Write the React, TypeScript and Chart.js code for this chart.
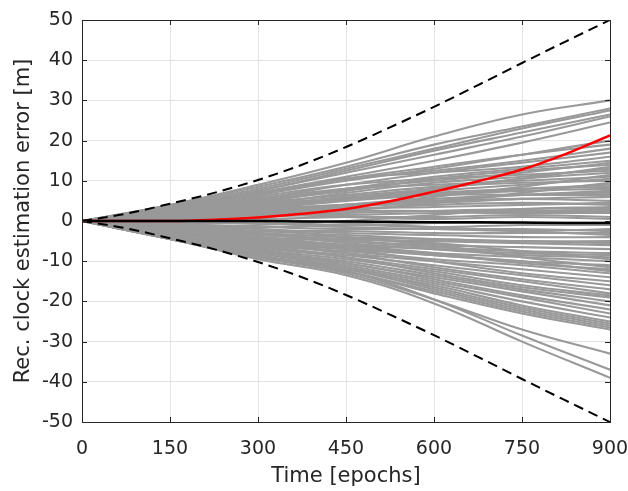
import { useEffect, useRef } from "react";
import { Chart, registerables } from "chart.js";

Chart.register(...registerables);

// Epoch grids
const EPOCHS_FINE = [0, 75, 150, 225, 300, 375, 450, 525, 600, 675, 750, 825, 900];
const EPOCHS_COARSE = [0, 150, 300, 450, 600, 750, 900];

// Bounds (dashed)
const UPPER_BOUND = [0, 1.8, 4.3, 7, 10.2, 14, 18.4, 23.3, 28.4, 33.8, 39.3, 44.7, 50];
const LOWER_BOUND = [0, -1.8, -4.3, -7, -10.2, -14, -18.4, -23.3, -28.4, -33.8, -39.3, -44.7, -50];

// Highlighted run (red) and mean error (black)
const RED_RUN = [0, 0, 0, 0.3, 0.9, 1.8, 3, 4.9, 7.3, 9.9, 12.8, 16.7, 21.3];
const MEAN_ERROR = [0, 0, 0, 0, 0, -0.1, -0.1, -0.2, -0.3, -0.3, -0.4, -0.5, -0.5];

// Monte Carlo runs (gray), sampled at EPOCHS_COARSE
const GRAY_RUNS: number[][] = [
  [0, 4, 9, 14.5, 21, 26.5, 30],
  [0, 4, 8.5, 13.5, 19, 23.5, 28],
  [0, 3.8, 8, 13, 18, 23, 27.5],
  [0, 3.5, 7.5, 12.5, 17.5, 22, 26.5],
  [0, 3.5, 7.5, 12, 16.5, 21, 26],
  [0, 3, 7, 11, 15, 19.5, 24.5],
  [0, 3, 6.5, 10, 13, 16.5, 20],
  [0, 3.5, 6.5, 10.5, 13.5, 16.5, 19],
  [0, 3, 7, 10.5, 12.5, 15, 18],
  [0, 2.5, 5.5, 9, 12, 14.5, 17],
  [0, 3, 6.5, 10.5, 12, 13.5, 16],
  [0, 2, 5, 8, 11, 13, 15],
  [0, 2.5, 4.5, 8, 10, 12, 14.5],
  [0, 3, 5, 7.5, 10.5, 12.5, 14],
  [0, 2, 4, 7, 9.5, 11, 13],
  [0, 2.5, 6, 9, 10.5, 11.5, 12.5],
  [0, 1.5, 3.5, 6, 8, 10.5, 12],
  [0, 2, 5.5, 8, 9, 10, 11],
  [0, 1.5, 3, 5.5, 7.5, 9, 10.5],
  [0, 2.5, 4.5, 6.5, 8.5, 9.5, 10],
  [0, 1, 3, 5, 6.5, 8, 9],
  [0, 2, 3.5, 5.5, 7, 8, 8.5],
  [0, 1.5, 4, 5.5, 6.5, 7.5, 8],
  [0, 1, 2.5, 4, 5.5, 6.5, 7],
  [0, 2, 4, 5.5, 6.5, 6.5, 6.5],
  [0, 1, 2, 3.5, 4.5, 5.5, 6],
  [0, 1.5, 3, 4, 5, 5.5, 5],
  [0, 0.5, 1.5, 3, 3.5, 4, 4.5],
  [0, 1, 2.5, 3, 4, 4.5, 4],
  [0, 0.5, 1, 2, 2.5, 3, 3],
  [0, 1.5, 2, 2.5, 2.5, 2.5, 2.5],
  [0, 0.5, 1.5, 1.5, 2, 2, 2],
  [0, 0.5, 0.5, 1, 1, 1.5, 1],
  [0, 1, 1.5, 1, 0.5, 1, 0.5],
  [0, -0.5, -0.5, -1, -0.5, -0.5, -0.5],
  [0, -0.5, -1.5, -1, -1.5, -1, -1],
  [0, -1, -1.5, -2, -2, -2.5, -2],
  [0, 0.5, -0.5, -1.5, -2, -2, -2.5],
  [0, -1.5, -2.5, -2.5, -3, -3, -3],
  [0, -1, -2, -3, -3.5, -4, -4],
  [0, -2, -3, -4, -4.5, -5, -5],
  [0, -1, -2.5, -3.5, -4.5, -5, -5.5],
  [0, -1.5, -3.5, -4.5, -5, -5.5, -6],
  [0, -2, -4, -5, -6, -6.5, -7],
  [0, -1.5, -3, -5, -6.5, -7.5, -8],
  [0, -2.5, -4.5, -6, -7, -8, -8.5],
  [0, -1, -3, -5.5, -7, -8.5, -9],
  [0, -2, -4.5, -6.5, -8, -9, -10],
  [0, -2.5, -5, -6.5, -8.5, -10, -11],
  [0, -2, -4, -6, -8, -10.5, -12],
  [0, -3, -6, -7.5, -9.5, -11, -13],
  [0, -2.5, -5.5, -8, -10, -12, -14],
  [0, -3, -5, -7, -10, -13, -15],
  [0, -3.5, -6.5, -8.5, -11, -13.5, -16],
  [0, -2.5, -5, -8, -11.5, -14.5, -17],
  [0, -3, -6.5, -9, -12, -15, -18],
  [0, -3.5, -7, -9.5, -12.5, -16, -18.5],
  [0, -3, -6, -9, -13, -16.5, -19],
  [0, -4, -7.5, -10, -13.5, -17, -20],
  [0, -3.5, -7, -10.5, -14, -17.5, -21],
  [0, -4, -8, -10.5, -14.5, -18.5, -22],
  [0, -3.5, -7.5, -11, -15, -19, -23],
  [0, -4, -8.5, -11.5, -15.5, -20, -24],
  [0, -4.5, -8.5, -12, -16, -21, -25],
  [0, -4, -8, -11.5, -16.5, -21.5, -25.5],
  [0, -4.5, -9, -12, -17, -22, -26],
  [0, -4, -8.5, -12.5, -17.5, -22.5, -26.5],
  [0, -4.5, -9, -12.5, -18, -23, -27],
  [0, -4.5, -9, -13, -19.5, -27, -33],
  [0, -4.5, -9, -12.5, -19.5, -28.5, -37],
  [0, -4.5, -9.5, -13.5, -20.5, -30, -39],
  [0, 1, 2, 4, 6, 8.5, 11.5],
  [0, -0.5, 1, 2.5, 4.5, 7, 9.5],
  [0, 2, 3, 4, 5, 6.5, 7.5],
  [0, -1, -1, 0, 1.5, 3, 3.5],
  [0, 1, 0.5, -0.5, -1.5, -2.5, -3.5],
  [0, -2, -3.5, -4.5, -5.5, -7.5, -9.5],
  [0, -1, -2, -4, -6, -9, -11.5],
  [0, 2.5, 4, 6, 8, 10.5, 13.5],
  [0, -3, -5.5, -7, -8.5, -10, -12.5],
];

// Axis ticks
const X_MIN = 0;
const X_MAX = 900;
const X_STEP = 150;
const Y_MIN = -50;
const Y_MAX = 50;
const Y_STEP = 10;

const X_TITLE = "Time [epochs]";
const Y_TITLE = "Rec. clock estimation error [m]";

const FONT = "'DejaVu Sans', 'Liberation Sans', Arial, sans-serif";
const AXIS_COLOR = "#262626";

const toPoints = (xs: number[], ys: number[]) => xs.map((x, i) => ({ x, y: ys[i] }));

const boxPlugin = {
  id: "matlabBox",
  afterDatasetsDraw(chart: any) {
    const { ctx, chartArea } = chart;
    const xs = chart.scales.x;
    const ys = chart.scales.y;
    const { left, right, top, bottom } = chartArea;
    const tl = 5;
    ctx.save();
    ctx.strokeStyle = AXIS_COLOR;
    ctx.lineWidth = 1;
    ctx.beginPath();
    xs.ticks.forEach((t: any) => {
      const px = Math.round(xs.getPixelForValue(t.value)) + 0.5;
      ctx.moveTo(px, bottom);
      ctx.lineTo(px, bottom - tl);
      ctx.moveTo(px, top);
      ctx.lineTo(px, top + tl);
    });
    ys.ticks.forEach((t: any) => {
      const py = Math.round(ys.getPixelForValue(t.value)) + 0.5;
      ctx.moveTo(left, py);
      ctx.lineTo(left + tl, py);
      ctx.moveTo(right, py);
      ctx.lineTo(right - tl, py);
    });
    ctx.stroke();
    ctx.strokeRect(Math.round(left) + 0.5, Math.round(top) + 0.5, Math.round(right - left), Math.round(bottom - top));
    ctx.restore();
  },
};

export default function App() {
  const canvasRef = useRef<HTMLCanvasElement | null>(null);

  useEffect(() => {
    if (!canvasRef.current) return;

    const grayDatasets = GRAY_RUNS.map((run, i) => ({
      label: `run ${i + 1}`,
      data: toPoints(EPOCHS_COARSE, run),
      borderColor: "#999999",
      borderWidth: 2.1,
      pointRadius: 0,
      tension: 0.4,
      order: 4,
    }));

    const chart = new Chart(canvasRef.current, {
      type: "line",
      data: {
        datasets: [
          ...grayDatasets,
          {
            label: "red run",
            data: toPoints(EPOCHS_FINE, RED_RUN),
            borderColor: "#ff0000",
            borderWidth: 2.5,
            pointRadius: 0,
            cubicInterpolationMode: "monotone" as const,
            order: 3,
          },
          {
            label: "mean",
            data: toPoints(EPOCHS_FINE, MEAN_ERROR),
            borderColor: "#000000",
            borderWidth: 2.5,
            pointRadius: 0,
            cubicInterpolationMode: "monotone" as const,
            order: 2,
          },
          {
            label: "upper",
            data: toPoints(EPOCHS_FINE, UPPER_BOUND),
            borderColor: "#000000",
            borderWidth: 2,
            borderDash: [10, 6],
            pointRadius: 0,
            cubicInterpolationMode: "monotone" as const,
            order: 1,
          },
          {
            label: "lower",
            data: toPoints(EPOCHS_FINE, LOWER_BOUND),
            borderColor: "#000000",
            borderWidth: 2,
            borderDash: [10, 6],
            pointRadius: 0,
            cubicInterpolationMode: "monotone" as const,
            order: 1,
          },
        ],
      },
      options: {
        responsive: false,
        animation: false,
        layout: { padding: { top: 20, right: 18, left: 0, bottom: 0 } },
        plugins: {
          legend: { display: false },
          tooltip: { enabled: false },
        },
        scales: {
          x: {
            type: "linear",
            min: X_MIN,
            max: X_MAX,
            ticks: {
              stepSize: X_STEP,
              color: AXIS_COLOR,
              font: { family: FONT, size: 19 },
              padding: 16,
              maxRotation: 0,
              callback: (v: any) => String(v),
            },
            grid: { color: "#e3e3e3", lineWidth: 1, drawTicks: false },
            border: { display: false },
            title: {
              display: true,
              text: X_TITLE,
              color: AXIS_COLOR,
              font: { family: FONT, size: 21 },
              padding: { top: 0, bottom: 2 },
            },
            afterFit: (scale: any) => {
              scale.height = 69;
              scale.paddingLeft = 0;
              scale.paddingRight = 0;
            },
          },
          y: {
            type: "linear",
            min: Y_MIN,
            max: Y_MAX,
            ticks: {
              stepSize: Y_STEP,
              color: AXIS_COLOR,
              font: { family: FONT, size: 19 },
              padding: 9,
              callback: (v: any) => String(v),
            },
            grid: { color: "#e3e3e3", lineWidth: 1, drawTicks: false },
            border: { display: false },
            title: {
              display: true,
              text: Y_TITLE,
              color: AXIS_COLOR,
              font: { family: FONT, size: 21 },
              padding: { top: 11, bottom: 0 },
            },
            afterFit: (scale: any) => {
              scale.width = 82;
              scale.paddingTop = 0;
              scale.paddingBottom = 0;
            },
          },
        },
      },
      plugins: [boxPlugin],
    });

    return () => chart.destroy();
  }, []);

  return (
    <div style={{ position: "absolute", left: 0, top: 0, width: 628, height: 491, background: "#ffffff" }}>
      <canvas ref={canvasRef} width={628} height={491} style={{ display: "block" }} />
    </div>
  );
}
